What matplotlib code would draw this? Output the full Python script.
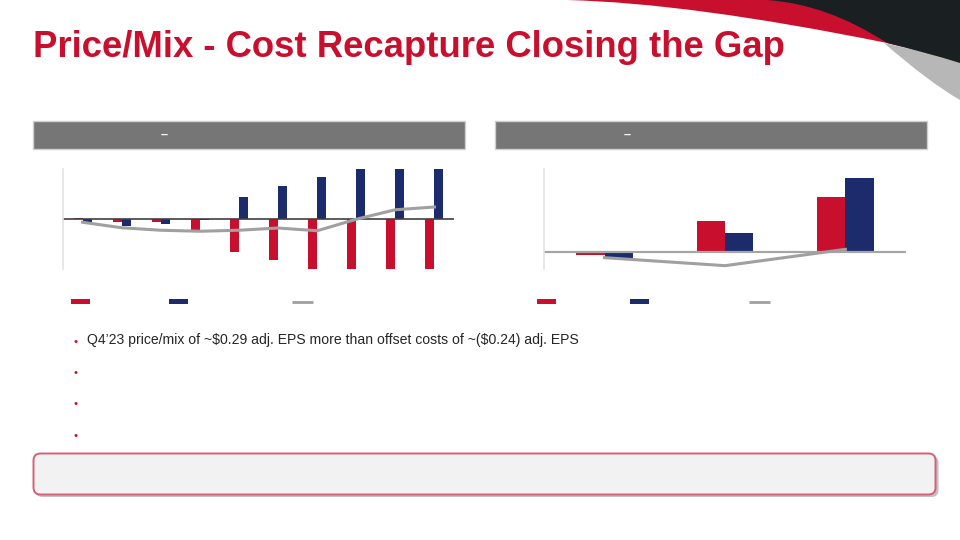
import numpy as np
import matplotlib.pyplot as plt
from matplotlib.patches import Rectangle, FancyBboxPatch, PathPatch
from matplotlib.path import Path

# ---- data ----
# left chart: 10 quarters (values in $ adj. EPS)
left_red = [0.003, -0.011, -0.011, -0.044, -0.133, -0.163, -0.215, -0.25, -0.24, -0.24]
left_blue = [-0.011, -0.027, -0.019, -0.005, 0.088, 0.132, 0.167, 0.25, 0.28, 0.29]
left_line = [-0.013, -0.035, -0.045, -0.049, -0.045, -0.036, -0.047, -0.001, 0.037, 0.048]

# right chart: 3 periods
right_red = [-0.008, 0.094, 0.167]
right_blue = [-0.020, 0.058, 0.224]
right_line = [-0.016, -0.040, 0.009]

title = 'Price/Mix - Cost Recapture Closing the Gap'
bullets = ['Q4\u201923 price/mix of ~$0.29 adj. EPS more than offset costs of ~($0.24) adj. EPS',
           '', '', '']

RED = '#c8102e'
NAVY = '#1b2b6b'
LINE = '#a0a0a0'

plt.rcParams['font.family'] = ['Liberation Sans', 'DejaVu Sans']

fig = plt.figure(figsize=(9.6, 5.4), dpi=100)

# background layer in pixel coordinates
bg = fig.add_axes([0, 0, 1, 1])
bg.set_xlim(0, 960)
bg.set_ylim(540, 0)
bg.axis('off')

# swoosh in top-right corner
C3 = Path.CURVE3
red_path = Path([(567, 0), (690, 3), (887, 43), (925, 52), (960, 63), (960, 0), (567, 0)],
                [Path.MOVETO, C3, C3, C3, C3, Path.LINETO, Path.CLOSEPOLY])
gray_path = Path([(884, 43), (930, 83), (960, 100), (960, 60), (884, 43)],
                 [Path.MOVETO, C3, C3, Path.LINETO, Path.CLOSEPOLY])
dark_path = Path([(767, 0), (827, 4), (887, 43), (925, 52), (960, 63), (960, 0), (767, 0)],
                 [Path.MOVETO, C3, C3, C3, C3, Path.LINETO, Path.CLOSEPOLY])
bg.add_patch(PathPatch(red_path, facecolor=RED, edgecolor='none'))
bg.add_patch(PathPatch(gray_path, facecolor='#b7b7b7', edgecolor='none'))
bg.add_patch(PathPatch(dark_path, facecolor='#1a1f22', edgecolor='none'))

bg.text(33, 57, title, color=RED, fontsize=26.3, fontweight='bold', va='baseline', ha='left')

# header bars
for x0, dash_x in [(33, 164), (495, 627)]:
    bg.add_patch(Rectangle((x0, 121), 432, 28, facecolor='#767676', edgecolor='#cfcfcf', lw=1))
    bg.text(dash_x, 135, '\u2013', color='white', fontsize=9, fontweight='bold', ha='center', va='center')

# legend keys
for rx, bx, lx in [(71, 169, 292), (537, 630, 749)]:
    bg.add_patch(Rectangle((rx, 299), 19, 5, facecolor=RED, edgecolor='none'))
    bg.add_patch(Rectangle((bx, 299), 19, 5, facecolor=NAVY, edgecolor='none'))
    bg.plot([lx, lx + 21], [301.5, 301.5], color=LINE, lw=2, solid_capstyle='butt')

# bullets
for i, b in enumerate(bullets):
    y = 340 + i * 31.2
    bg.text(76, y + 2, '\u2022', color=RED, fontsize=8, ha='center', va='center')
    if b:
        bg.text(87, y, b, color='#262626', fontsize=10.1, ha='left', va='center', parse_math=False)

# bottom box with shadow
bg.add_patch(FancyBboxPatch((35.5, 456), 903, 41, boxstyle='round,pad=0,rounding_size=7',
                            facecolor='#9a9a9a', edgecolor='none', alpha=0.6))
bg.add_patch(FancyBboxPatch((33.5, 453.5), 902, 41, boxstyle='round,pad=0,rounding_size=7',
                            facecolor='#f2f2f2', edgecolor='#d4607a', lw=1.4))

# ---- left chart ----
ax1 = fig.add_axes([63 / 960, 1 - 269 / 540, 391 / 960, 100 / 540])
x = np.arange(len(left_red))
w = 0.23
ax1.bar(x - w / 2, left_red, w, color=RED, zorder=2)
ax1.bar(x + w / 2, left_blue, w, color=NAVY, zorder=2)
ax1.plot(x, left_line, color=LINE, lw=2.2, zorder=3)
ax1.axhline(0, color='#404040', lw=1.2, zorder=2.5)
ax1.set_xlim(-0.5, len(x) - 0.5)
ax1.set_ylim(-0.20, 0.20)

# ---- right chart ----
ax2 = fig.add_axes([544.3 / 960, 1 - 269 / 540, 361.4 / 960, 100 / 540])
x2 = np.arange(len(right_red))
w2 = 0.235
ax2.bar(x2 - w2 / 2, right_red, w2, color=RED, zorder=2)
ax2.bar(x2 + w2 / 2, right_blue, w2, color=NAVY, zorder=2)
ax2.axhline(0, color='#a6a6a6', lw=1.6, zorder=2.5)
ax2.plot(x2, right_line, color=LINE, lw=2.2, zorder=3)
ax2.set_xlim(-0.5, len(x2) - 0.5)
ax2.set_ylim(-0.05, 0.25)

for ax in (ax1, ax2):
    ax.patch.set_alpha(0)
    for s in ['top', 'right', 'bottom']:
        ax.spines[s].set_visible(False)
    ax.spines['left'].set_color('#e3e3e3')
    ax.spines['left'].set_linewidth(1.2)
    ax.set_xticks([])
    ax.set_yticks([])

fig.savefig('out.png', dpi=100)
